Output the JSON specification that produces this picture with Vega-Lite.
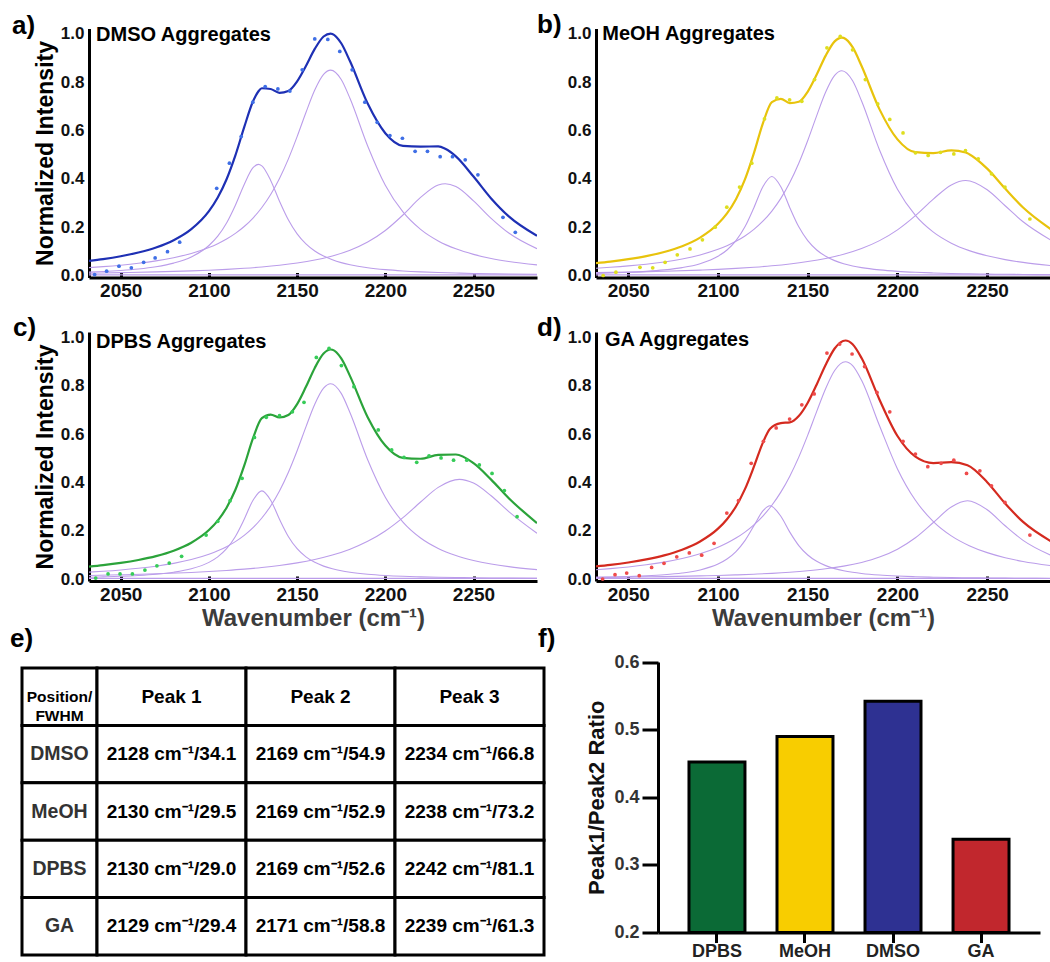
{
"$schema": "https://vega.github.io/schema/vega-lite/v6.json",
"autosize": {"type": "none"},
"padding": {"left": 89, "top": 28.5, "right": 961, "bottom": 933.5},
"background": "white",
"config": {"font": "Liberation Sans", "view": {"stroke": null}, "title": {"anchor": "start", "frame": "group", "fontSize": 26, "fontWeight": "bold", "color": "#000", "offset": 0, "baseline": "alphabetic"}},
"datasets": {
"curves": [
{"p":"a","k":"p1","x":2032,"y":0.0141},{"p":"a","k":"p1","x":2040,"y":0.0166},{"p":"a","k":"p1","x":2050,"y":0.021},{"p":"a","k":"p1","x":2060,"y":0.0272},{"p":"a","k":"p1","x":2070,"y":0.0366},{"p":"a","k":"p1","x":2080,"y":0.0515},{"p":"a","k":"p1","x":2090,"y":0.0771},{"p":"a","k":"p1","x":2100,"y":0.1244},{"p":"a","k":"p1","x":2105,"y":0.1631},{"p":"a","k":"p1","x":2110,"y":0.2175},{"p":"a","k":"p1","x":2115,"y":0.2909},{"p":"a","k":"p1","x":2120,"y":0.377},{"p":"a","k":"p1","x":2125,"y":0.4462},{"p":"a","k":"p1","x":2128,"y":0.46},{"p":"a","k":"p1","x":2130,"y":0.4538},{"p":"a","k":"p1","x":2135,"y":0.3937},{"p":"a","k":"p1","x":2140,"y":0.3076},{"p":"a","k":"p1","x":2145,"y":0.2307},{"p":"a","k":"p1","x":2150,"y":0.1726},{"p":"a","k":"p1","x":2155,"y":0.1311},{"p":"a","k":"p1","x":2160,"y":0.1017},{"p":"a","k":"p1","x":2165,"y":0.0806},{"p":"a","k":"p1","x":2170,"y":0.0651},{"p":"a","k":"p1","x":2175,"y":0.0535},{"p":"a","k":"p1","x":2180,"y":0.0447},{"p":"a","k":"p1","x":2190,"y":0.0323},{"p":"a","k":"p1","x":2200,"y":0.0244},{"p":"a","k":"p1","x":2210,"y":0.0191},{"p":"a","k":"p1","x":2220,"y":0.0153},{"p":"a","k":"p1","x":2230,"y":0.0125},{"p":"a","k":"p1","x":2240,"y":0.0104},{"p":"a","k":"p1","x":2250,"y":0.0088},{"p":"a","k":"p1","x":2260,"y":0.0075},{"p":"a","k":"p1","x":2270,"y":0.0065},{"p":"a","k":"p1","x":2286,"y":0.0053},
{"p":"a","k":"p2","x":2032,"y":0.0328},{"p":"a","k":"p2","x":2040,"y":0.0368},{"p":"a","k":"p2","x":2050,"y":0.0429},{"p":"a","k":"p2","x":2060,"y":0.0507},{"p":"a","k":"p2","x":2070,"y":0.0607},{"p":"a","k":"p2","x":2080,"y":0.0738},{"p":"a","k":"p2","x":2090,"y":0.0916},{"p":"a","k":"p2","x":2100,"y":0.1161},{"p":"a","k":"p2","x":2105,"y":0.1321},{"p":"a","k":"p2","x":2110,"y":0.1513},{"p":"a","k":"p2","x":2115,"y":0.1745},{"p":"a","k":"p2","x":2120,"y":0.203},{"p":"a","k":"p2","x":2125,"y":0.2381},{"p":"a","k":"p2","x":2130,"y":0.2816},{"p":"a","k":"p2","x":2135,"y":0.3354},{"p":"a","k":"p2","x":2140,"y":0.4017},{"p":"a","k":"p2","x":2145,"y":0.4818},{"p":"a","k":"p2","x":2150,"y":0.5747},{"p":"a","k":"p2","x":2155,"y":0.6745},{"p":"a","k":"p2","x":2160,"y":0.7675},{"p":"a","k":"p2","x":2165,"y":0.8323},{"p":"a","k":"p2","x":2169,"y":0.85},{"p":"a","k":"p2","x":2175,"y":0.8112},{"p":"a","k":"p2","x":2180,"y":0.7324},{"p":"a","k":"p2","x":2190,"y":0.5362},{"p":"a","k":"p2","x":2200,"y":0.3736},{"p":"a","k":"p2","x":2210,"y":0.2631},{"p":"a","k":"p2","x":2220,"y":0.1909},{"p":"a","k":"p2","x":2230,"y":0.1431},{"p":"a","k":"p2","x":2240,"y":0.1105},{"p":"a","k":"p2","x":2250,"y":0.0876},{"p":"a","k":"p2","x":2260,"y":0.0709},{"p":"a","k":"p2","x":2270,"y":0.0585},{"p":"a","k":"p2","x":2286,"y":0.0443},
{"p":"a","k":"p3","x":2032,"y":0.0101},{"p":"a","k":"p3","x":2050,"y":0.0121},{"p":"a","k":"p3","x":2070,"y":0.0151},{"p":"a","k":"p3","x":2090,"y":0.0194},{"p":"a","k":"p3","x":2100,"y":0.0222},{"p":"a","k":"p3","x":2110,"y":0.0257},{"p":"a","k":"p3","x":2120,"y":0.03},{"p":"a","k":"p3","x":2130,"y":0.0355},{"p":"a","k":"p3","x":2140,"y":0.0426},{"p":"a","k":"p3","x":2150,"y":0.0519},{"p":"a","k":"p3","x":2160,"y":0.0643},{"p":"a","k":"p3","x":2170,"y":0.0813},{"p":"a","k":"p3","x":2180,"y":0.1051},{"p":"a","k":"p3","x":2190,"y":0.1389},{"p":"a","k":"p3","x":2200,"y":0.1866},{"p":"a","k":"p3","x":2210,"y":0.2506},{"p":"a","k":"p3","x":2220,"y":0.3232},{"p":"a","k":"p3","x":2230,"y":0.3746},{"p":"a","k":"p3","x":2234,"y":0.38},{"p":"a","k":"p3","x":2240,"y":0.3681},{"p":"a","k":"p3","x":2250,"y":0.3091},{"p":"a","k":"p3","x":2260,"y":0.2366},{"p":"a","k":"p3","x":2270,"y":0.1758},{"p":"a","k":"p3","x":2286,"y":0.111},
{"p":"a","k":"base","x":2032,"y":0.003},{"p":"a","k":"base","x":2286,"y":0.003},
{"p":"a","k":"fit","x":2032,"y":0.061},{"p":"a","k":"fit","x":2040,"y":0.0683},{"p":"a","k":"fit","x":2050,"y":0.08},{"p":"a","k":"fit","x":2060,"y":0.0954},{"p":"a","k":"fit","x":2070,"y":0.1164},{"p":"a","k":"fit","x":2080,"y":0.1464},{"p":"a","k":"fit","x":2090,"y":0.1921},{"p":"a","k":"fit","x":2100,"y":0.2667},{"p":"a","k":"fit","x":2105,"y":0.3231},{"p":"a","k":"fit","x":2110,"y":0.3985},{"p":"a","k":"fit","x":2115,"y":0.4972},{"p":"a","k":"fit","x":2120,"y":0.614},{"p":"a","k":"fit","x":2125,"y":0.7209},{"p":"a","k":"fit","x":2128,"y":0.7614},{"p":"a","k":"fit","x":2130,"y":0.7749},{"p":"a","k":"fit","x":2135,"y":0.7719},{"p":"a","k":"fit","x":2140,"y":0.7559},{"p":"a","k":"fit","x":2145,"y":0.7634},{"p":"a","k":"fit","x":2150,"y":0.8032},{"p":"a","k":"fit","x":2155,"y":0.8672},{"p":"a","k":"fit","x":2160,"y":0.9375},{"p":"a","k":"fit","x":2165,"y":0.989},{"p":"a","k":"fit","x":2169,"y":1.0012},{"p":"a","k":"fit","x":2170,"y":0.9993},{"p":"a","k":"fit","x":2175,"y":0.9609},{"p":"a","k":"fit","x":2180,"y":0.8862},{"p":"a","k":"fit","x":2190,"y":0.7114},{"p":"a","k":"fit","x":2200,"y":0.589},{"p":"a","k":"fit","x":2210,"y":0.5368},{"p":"a","k":"fit","x":2220,"y":0.5334},{"p":"a","k":"fit","x":2230,"y":0.5342},{"p":"a","k":"fit","x":2234,"y":0.5242},{"p":"a","k":"fit","x":2240,"y":0.493},{"p":"a","k":"fit","x":2250,"y":0.4095},{"p":"a","k":"fit","x":2260,"y":0.319},{"p":"a","k":"fit","x":2270,"y":0.2448},{"p":"a","k":"fit","x":2286,"y":0.1646},
{"p":"b","k":"p1","x":2032,"y":0.0091},{"p":"b","k":"p1","x":2040,"y":0.0107},{"p":"b","k":"p1","x":2050,"y":0.0135},{"p":"b","k":"p1","x":2060,"y":0.0174},{"p":"b","k":"p1","x":2070,"y":0.0234},{"p":"b","k":"p1","x":2080,"y":0.0328},{"p":"b","k":"p1","x":2090,"y":0.0491},{"p":"b","k":"p1","x":2100,"y":0.0798},{"p":"b","k":"p1","x":2105,"y":0.1059},{"p":"b","k":"p1","x":2110,"y":0.1445},{"p":"b","k":"p1","x":2115,"y":0.2016},{"p":"b","k":"p1","x":2120,"y":0.2809},{"p":"b","k":"p1","x":2125,"y":0.3677},{"p":"b","k":"p1","x":2130,"y":0.41},{"p":"b","k":"p1","x":2135,"y":0.3677},{"p":"b","k":"p1","x":2140,"y":0.2809},{"p":"b","k":"p1","x":2145,"y":0.2016},{"p":"b","k":"p1","x":2150,"y":0.1445},{"p":"b","k":"p1","x":2155,"y":0.1059},{"p":"b","k":"p1","x":2160,"y":0.0798},{"p":"b","k":"p1","x":2165,"y":0.0618},{"p":"b","k":"p1","x":2170,"y":0.0491},{"p":"b","k":"p1","x":2175,"y":0.0398},{"p":"b","k":"p1","x":2180,"y":0.0328},{"p":"b","k":"p1","x":2190,"y":0.0234},{"p":"b","k":"p1","x":2200,"y":0.0174},{"p":"b","k":"p1","x":2210,"y":0.0135},{"p":"b","k":"p1","x":2220,"y":0.0107},{"p":"b","k":"p1","x":2230,"y":0.0087},{"p":"b","k":"p1","x":2240,"y":0.0072},{"p":"b","k":"p1","x":2250,"y":0.0061},{"p":"b","k":"p1","x":2260,"y":0.0052},{"p":"b","k":"p1","x":2270,"y":0.0045},{"p":"b","k":"p1","x":2286,"y":0.0036},
{"p":"b","k":"p2","x":2032,"y":0.0304},{"p":"b","k":"p2","x":2040,"y":0.0342},{"p":"b","k":"p2","x":2050,"y":0.0399},{"p":"b","k":"p2","x":2060,"y":0.0471},{"p":"b","k":"p2","x":2070,"y":0.0564},{"p":"b","k":"p2","x":2080,"y":0.0687},{"p":"b","k":"p2","x":2090,"y":0.0854},{"p":"b","k":"p2","x":2100,"y":0.1085},{"p":"b","k":"p2","x":2105,"y":0.1236},{"p":"b","k":"p2","x":2110,"y":0.1417},{"p":"b","k":"p2","x":2115,"y":0.1639},{"p":"b","k":"p2","x":2120,"y":0.1911},{"p":"b","k":"p2","x":2125,"y":0.2248},{"p":"b","k":"p2","x":2130,"y":0.2669},{"p":"b","k":"p2","x":2135,"y":0.3193},{"p":"b","k":"p2","x":2140,"y":0.3846},{"p":"b","k":"p2","x":2145,"y":0.4645},{"p":"b","k":"p2","x":2150,"y":0.5587},{"p":"b","k":"p2","x":2155,"y":0.6617},{"p":"b","k":"p2","x":2160,"y":0.7591},{"p":"b","k":"p2","x":2165,"y":0.828},{"p":"b","k":"p2","x":2169,"y":0.847},{"p":"b","k":"p2","x":2175,"y":0.8056},{"p":"b","k":"p2","x":2180,"y":0.7221},{"p":"b","k":"p2","x":2190,"y":0.5195},{"p":"b","k":"p2","x":2200,"y":0.3568},{"p":"b","k":"p2","x":2210,"y":0.2489},{"p":"b","k":"p2","x":2220,"y":0.1796},{"p":"b","k":"p2","x":2230,"y":0.1341},{"p":"b","k":"p2","x":2240,"y":0.1032},{"p":"b","k":"p2","x":2250,"y":0.0816},{"p":"b","k":"p2","x":2260,"y":0.066},{"p":"b","k":"p2","x":2270,"y":0.0544},{"p":"b","k":"p2","x":2286,"y":0.0412},
{"p":"b","k":"p3","x":2032,"y":0.012},{"p":"b","k":"p3","x":2050,"y":0.0144},{"p":"b","k":"p3","x":2070,"y":0.0178},{"p":"b","k":"p3","x":2090,"y":0.0226},{"p":"b","k":"p3","x":2100,"y":0.0258},{"p":"b","k":"p3","x":2110,"y":0.0297},{"p":"b","k":"p3","x":2120,"y":0.0345},{"p":"b","k":"p3","x":2130,"y":0.0405},{"p":"b","k":"p3","x":2140,"y":0.0481},{"p":"b","k":"p3","x":2150,"y":0.058},{"p":"b","k":"p3","x":2160,"y":0.0709},{"p":"b","k":"p3","x":2170,"y":0.0883},{"p":"b","k":"p3","x":2180,"y":0.1119},{"p":"b","k":"p3","x":2190,"y":0.1445},{"p":"b","k":"p3","x":2200,"y":0.1891},{"p":"b","k":"p3","x":2210,"y":0.2479},{"p":"b","k":"p3","x":2220,"y":0.3164},{"p":"b","k":"p3","x":2230,"y":0.3751},{"p":"b","k":"p3","x":2238,"y":0.393},{"p":"b","k":"p3","x":2250,"y":0.3548},{"p":"b","k":"p3","x":2260,"y":0.2887},{"p":"b","k":"p3","x":2270,"y":0.2227},{"p":"b","k":"p3","x":2286,"y":0.1445},
{"p":"b","k":"base","x":2032,"y":0.003},{"p":"b","k":"base","x":2286,"y":0.003},
{"p":"b","k":"fit","x":2032,"y":0.0515},{"p":"b","k":"fit","x":2040,"y":0.0579},{"p":"b","k":"fit","x":2050,"y":0.0678},{"p":"b","k":"fit","x":2060,"y":0.0804},{"p":"b","k":"fit","x":2070,"y":0.0976},{"p":"b","k":"fit","x":2080,"y":0.1215},{"p":"b","k":"fit","x":2090,"y":0.1571},{"p":"b","k":"fit","x":2100,"y":0.2141},{"p":"b","k":"fit","x":2105,"y":0.2572},{"p":"b","k":"fit","x":2110,"y":0.3159},{"p":"b","k":"fit","x":2115,"y":0.3975},{"p":"b","k":"fit","x":2120,"y":0.5065},{"p":"b","k":"fit","x":2125,"y":0.6298},{"p":"b","k":"fit","x":2130,"y":0.7174},{"p":"b","k":"fit","x":2135,"y":0.7311},{"p":"b","k":"fit","x":2140,"y":0.7136},{"p":"b","k":"fit","x":2145,"y":0.7188},{"p":"b","k":"fit","x":2150,"y":0.7612},{"p":"b","k":"fit","x":2155,"y":0.8316},{"p":"b","k":"fit","x":2160,"y":0.9098},{"p":"b","k":"fit","x":2165,"y":0.9687},{"p":"b","k":"fit","x":2169,"y":0.9846},{"p":"b","k":"fit","x":2170,"y":0.9832},{"p":"b","k":"fit","x":2175,"y":0.9446},{"p":"b","k":"fit","x":2180,"y":0.8668},{"p":"b","k":"fit","x":2190,"y":0.6874},{"p":"b","k":"fit","x":2200,"y":0.5633},{"p":"b","k":"fit","x":2210,"y":0.5103},{"p":"b","k":"fit","x":2220,"y":0.5067},{"p":"b","k":"fit","x":2230,"y":0.5179},{"p":"b","k":"fit","x":2238,"y":0.509},{"p":"b","k":"fit","x":2240,"y":0.5022},{"p":"b","k":"fit","x":2250,"y":0.4425},{"p":"b","k":"fit","x":2260,"y":0.3599},{"p":"b","k":"fit","x":2270,"y":0.2816},{"p":"b","k":"fit","x":2286,"y":0.1893},
{"p":"c","k":"p1","x":2032,"y":0.0078},{"p":"c","k":"p1","x":2040,"y":0.0092},{"p":"c","k":"p1","x":2050,"y":0.0116},{"p":"c","k":"p1","x":2060,"y":0.015},{"p":"c","k":"p1","x":2070,"y":0.0201},{"p":"c","k":"p1","x":2080,"y":0.0283},{"p":"c","k":"p1","x":2090,"y":0.0424},{"p":"c","k":"p1","x":2100,"y":0.0691},{"p":"c","k":"p1","x":2105,"y":0.0919},{"p":"c","k":"p1","x":2110,"y":0.1257},{"p":"c","k":"p1","x":2115,"y":0.1763},{"p":"c","k":"p1","x":2120,"y":0.2474},{"p":"c","k":"p1","x":2125,"y":0.3262},{"p":"c","k":"p1","x":2130,"y":0.365},{"p":"c","k":"p1","x":2135,"y":0.3262},{"p":"c","k":"p1","x":2140,"y":0.2474},{"p":"c","k":"p1","x":2145,"y":0.1763},{"p":"c","k":"p1","x":2150,"y":0.1257},{"p":"c","k":"p1","x":2155,"y":0.0919},{"p":"c","k":"p1","x":2160,"y":0.0691},{"p":"c","k":"p1","x":2165,"y":0.0535},{"p":"c","k":"p1","x":2170,"y":0.0424},{"p":"c","k":"p1","x":2175,"y":0.0343},{"p":"c","k":"p1","x":2180,"y":0.0283},{"p":"c","k":"p1","x":2190,"y":0.0201},{"p":"c","k":"p1","x":2200,"y":0.015},{"p":"c","k":"p1","x":2210,"y":0.0116},{"p":"c","k":"p1","x":2220,"y":0.0092},{"p":"c","k":"p1","x":2230,"y":0.0075},{"p":"c","k":"p1","x":2240,"y":0.0062},{"p":"c","k":"p1","x":2250,"y":0.0053},{"p":"c","k":"p1","x":2260,"y":0.0045},{"p":"c","k":"p1","x":2270,"y":0.0039},{"p":"c","k":"p1","x":2286,"y":0.0031},
{"p":"c","k":"p2","x":2032,"y":0.0287},{"p":"c","k":"p2","x":2040,"y":0.0322},{"p":"c","k":"p2","x":2050,"y":0.0376},{"p":"c","k":"p2","x":2060,"y":0.0445},{"p":"c","k":"p2","x":2070,"y":0.0533},{"p":"c","k":"p2","x":2080,"y":0.0649},{"p":"c","k":"p2","x":2090,"y":0.0806},{"p":"c","k":"p2","x":2100,"y":0.1025},{"p":"c","k":"p2","x":2105,"y":0.1167},{"p":"c","k":"p2","x":2110,"y":0.134},{"p":"c","k":"p2","x":2115,"y":0.1549},{"p":"c","k":"p2","x":2120,"y":0.1807},{"p":"c","k":"p2","x":2125,"y":0.2127},{"p":"c","k":"p2","x":2130,"y":0.2526},{"p":"c","k":"p2","x":2135,"y":0.3025},{"p":"c","k":"p2","x":2140,"y":0.3646},{"p":"c","k":"p2","x":2145,"y":0.4409},{"p":"c","k":"p2","x":2150,"y":0.5309},{"p":"c","k":"p2","x":2155,"y":0.6296},{"p":"c","k":"p2","x":2160,"y":0.7233},{"p":"c","k":"p2","x":2165,"y":0.7897},{"p":"c","k":"p2","x":2169,"y":0.808},{"p":"c","k":"p2","x":2175,"y":0.768},{"p":"c","k":"p2","x":2180,"y":0.6877},{"p":"c","k":"p2","x":2190,"y":0.4934},{"p":"c","k":"p2","x":2200,"y":0.3382},{"p":"c","k":"p2","x":2210,"y":0.2355},{"p":"c","k":"p2","x":2220,"y":0.1698},{"p":"c","k":"p2","x":2230,"y":0.1267},{"p":"c","k":"p2","x":2240,"y":0.0975},{"p":"c","k":"p2","x":2250,"y":0.0771},{"p":"c","k":"p2","x":2260,"y":0.0623},{"p":"c","k":"p2","x":2270,"y":0.0513},{"p":"c","k":"p2","x":2286,"y":0.0389},
{"p":"c","k":"p3","x":2032,"y":0.0148},{"p":"c","k":"p3","x":2050,"y":0.0176},{"p":"c","k":"p3","x":2070,"y":0.0217},{"p":"c","k":"p3","x":2090,"y":0.0274},{"p":"c","k":"p3","x":2100,"y":0.0311},{"p":"c","k":"p3","x":2110,"y":0.0356},{"p":"c","k":"p3","x":2120,"y":0.041},{"p":"c","k":"p3","x":2130,"y":0.0478},{"p":"c","k":"p3","x":2140,"y":0.0563},{"p":"c","k":"p3","x":2150,"y":0.0671},{"p":"c","k":"p3","x":2160,"y":0.0811},{"p":"c","k":"p3","x":2170,"y":0.0993},{"p":"c","k":"p3","x":2180,"y":0.1236},{"p":"c","k":"p3","x":2190,"y":0.156},{"p":"c","k":"p3","x":2200,"y":0.199},{"p":"c","k":"p3","x":2210,"y":0.2542},{"p":"c","k":"p3","x":2220,"y":0.3187},{"p":"c","k":"p3","x":2230,"y":0.3793},{"p":"c","k":"p3","x":2242,"y":0.4125},{"p":"c","k":"p3","x":2250,"y":0.397},{"p":"c","k":"p3","x":2260,"y":0.3446},{"p":"c","k":"p3","x":2270,"y":0.2793},{"p":"c","k":"p3","x":2286,"y":0.1895},
{"p":"c","k":"base","x":2032,"y":0.003},{"p":"c","k":"base","x":2286,"y":0.003},
{"p":"c","k":"fit","x":2032,"y":0.0513},{"p":"c","k":"fit","x":2040,"y":0.0574},{"p":"c","k":"fit","x":2050,"y":0.0668},{"p":"c","k":"fit","x":2060,"y":0.079},{"p":"c","k":"fit","x":2070,"y":0.0951},{"p":"c","k":"fit","x":2080,"y":0.1175},{"p":"c","k":"fit","x":2090,"y":0.1504},{"p":"c","k":"fit","x":2100,"y":0.2027},{"p":"c","k":"fit","x":2105,"y":0.2418},{"p":"c","k":"fit","x":2110,"y":0.2953},{"p":"c","k":"fit","x":2115,"y":0.3694},{"p":"c","k":"fit","x":2120,"y":0.4691},{"p":"c","k":"fit","x":2125,"y":0.5831},{"p":"c","k":"fit","x":2130,"y":0.6654},{"p":"c","k":"fit","x":2135,"y":0.6805},{"p":"c","k":"fit","x":2140,"y":0.6683},{"p":"c","k":"fit","x":2145,"y":0.6786},{"p":"c","k":"fit","x":2150,"y":0.7237},{"p":"c","k":"fit","x":2155,"y":0.7951},{"p":"c","k":"fit","x":2160,"y":0.8735},{"p":"c","k":"fit","x":2165,"y":0.9328},{"p":"c","k":"fit","x":2169,"y":0.9496},{"p":"c","k":"fit","x":2170,"y":0.9486},{"p":"c","k":"fit","x":2175,"y":0.9129},{"p":"c","k":"fit","x":2180,"y":0.8396},{"p":"c","k":"fit","x":2190,"y":0.6695},{"p":"c","k":"fit","x":2200,"y":0.5522},{"p":"c","k":"fit","x":2210,"y":0.5013},{"p":"c","k":"fit","x":2220,"y":0.4977},{"p":"c","k":"fit","x":2230,"y":0.5135},{"p":"c","k":"fit","x":2240,"y":0.5152},{"p":"c","k":"fit","x":2250,"y":0.4794},{"p":"c","k":"fit","x":2260,"y":0.4114},{"p":"c","k":"fit","x":2270,"y":0.3345},{"p":"c","k":"fit","x":2286,"y":0.2315},
{"p":"d","k":"p1","x":2032,"y":0.0068},{"p":"d","k":"p1","x":2040,"y":0.008},{"p":"d","k":"p1","x":2050,"y":0.0101},{"p":"d","k":"p1","x":2060,"y":0.0132},{"p":"d","k":"p1","x":2070,"y":0.0177},{"p":"d","k":"p1","x":2080,"y":0.025},{"p":"d","k":"p1","x":2090,"y":0.0377},{"p":"d","k":"p1","x":2100,"y":0.0619},{"p":"d","k":"p1","x":2105,"y":0.0827},{"p":"d","k":"p1","x":2110,"y":0.1135},{"p":"d","k":"p1","x":2115,"y":0.1589},{"p":"d","k":"p1","x":2120,"y":0.2204},{"p":"d","k":"p1","x":2125,"y":0.2821},{"p":"d","k":"p1","x":2129,"y":0.303},{"p":"d","k":"p1","x":2135,"y":0.2597},{"p":"d","k":"p1","x":2140,"y":0.1942},{"p":"d","k":"p1","x":2145,"y":0.1387},{"p":"d","k":"p1","x":2150,"y":0.0997},{"p":"d","k":"p1","x":2155,"y":0.0734},{"p":"d","k":"p1","x":2160,"y":0.0556},{"p":"d","k":"p1","x":2165,"y":0.0433},{"p":"d","k":"p1","x":2170,"y":0.0345},{"p":"d","k":"p1","x":2175,"y":0.0281},{"p":"d","k":"p1","x":2180,"y":0.0232},{"p":"d","k":"p1","x":2190,"y":0.0166},{"p":"d","k":"p1","x":2200,"y":0.0125},{"p":"d","k":"p1","x":2210,"y":0.0097},{"p":"d","k":"p1","x":2220,"y":0.0077},{"p":"d","k":"p1","x":2230,"y":0.0063},{"p":"d","k":"p1","x":2240,"y":0.0052},{"p":"d","k":"p1","x":2250,"y":0.0044},{"p":"d","k":"p1","x":2260,"y":0.0038},{"p":"d","k":"p1","x":2270,"y":0.0033},{"p":"d","k":"p1","x":2286,"y":0.0026},
{"p":"d","k":"p2","x":2032,"y":0.0385},{"p":"d","k":"p2","x":2040,"y":0.0431},{"p":"d","k":"p2","x":2050,"y":0.0501},{"p":"d","k":"p2","x":2060,"y":0.0589},{"p":"d","k":"p2","x":2070,"y":0.0702},{"p":"d","k":"p2","x":2080,"y":0.085},{"p":"d","k":"p2","x":2090,"y":0.1047},{"p":"d","k":"p2","x":2100,"y":0.1316},{"p":"d","k":"p2","x":2105,"y":0.1489},{"p":"d","k":"p2","x":2110,"y":0.1695},{"p":"d","k":"p2","x":2115,"y":0.1943},{"p":"d","k":"p2","x":2120,"y":0.2242},{"p":"d","k":"p2","x":2125,"y":0.2607},{"p":"d","k":"p2","x":2130,"y":0.3053},{"p":"d","k":"p2","x":2135,"y":0.3597},{"p":"d","k":"p2","x":2140,"y":0.4257},{"p":"d","k":"p2","x":2145,"y":0.5045},{"p":"d","k":"p2","x":2150,"y":0.5953},{"p":"d","k":"p2","x":2155,"y":0.6936},{"p":"d","k":"p2","x":2160,"y":0.7886},{"p":"d","k":"p2","x":2165,"y":0.863},{"p":"d","k":"p2","x":2171,"y":0.899},{"p":"d","k":"p2","x":2175,"y":0.8827},{"p":"d","k":"p2","x":2180,"y":0.822},{"p":"d","k":"p2","x":2190,"y":0.6342},{"p":"d","k":"p2","x":2200,"y":0.4557},{"p":"d","k":"p2","x":2210,"y":0.3258},{"p":"d","k":"p2","x":2220,"y":0.238},{"p":"d","k":"p2","x":2230,"y":0.1788},{"p":"d","k":"p2","x":2240,"y":0.1382},{"p":"d","k":"p2","x":2250,"y":0.1094},{"p":"d","k":"p2","x":2260,"y":0.0885},{"p":"d","k":"p2","x":2270,"y":0.0729},{"p":"d","k":"p2","x":2286,"y":0.0552},
{"p":"d","k":"p3","x":2032,"y":0.007},{"p":"d","k":"p3","x":2050,"y":0.0083},{"p":"d","k":"p3","x":2070,"y":0.0103},{"p":"d","k":"p3","x":2090,"y":0.0132},{"p":"d","k":"p3","x":2100,"y":0.015},{"p":"d","k":"p3","x":2110,"y":0.0173},{"p":"d","k":"p3","x":2120,"y":0.0202},{"p":"d","k":"p3","x":2130,"y":0.0237},{"p":"d","k":"p3","x":2140,"y":0.0283},{"p":"d","k":"p3","x":2150,"y":0.0344},{"p":"d","k":"p3","x":2160,"y":0.0424},{"p":"d","k":"p3","x":2170,"y":0.0534},{"p":"d","k":"p3","x":2180,"y":0.0689},{"p":"d","k":"p3","x":2190,"y":0.0911},{"p":"d","k":"p3","x":2200,"y":0.1237},{"p":"d","k":"p3","x":2210,"y":0.171},{"p":"d","k":"p3","x":2220,"y":0.2341},{"p":"d","k":"p3","x":2230,"y":0.2983},{"p":"d","k":"p3","x":2239,"y":0.324},{"p":"d","k":"p3","x":2250,"y":0.287},{"p":"d","k":"p3","x":2260,"y":0.2205},{"p":"d","k":"p3","x":2270,"y":0.1602},{"p":"d","k":"p3","x":2286,"y":0.0967},
{"p":"d","k":"base","x":2032,"y":0.003},{"p":"d","k":"base","x":2286,"y":0.003},
{"p":"d","k":"fit","x":2032,"y":0.0523},{"p":"d","k":"fit","x":2040,"y":0.0586},{"p":"d","k":"fit","x":2050,"y":0.0685},{"p":"d","k":"fit","x":2060,"y":0.0813},{"p":"d","k":"fit","x":2070,"y":0.0982},{"p":"d","k":"fit","x":2080,"y":0.1216},{"p":"d","k":"fit","x":2090,"y":0.1556},{"p":"d","k":"fit","x":2100,"y":0.2085},{"p":"d","k":"fit","x":2105,"y":0.2477},{"p":"d","k":"fit","x":2110,"y":0.3003},{"p":"d","k":"fit","x":2115,"y":0.3719},{"p":"d","k":"fit","x":2120,"y":0.4648},{"p":"d","k":"fit","x":2125,"y":0.5646},{"p":"d","k":"fit","x":2129,"y":0.622},{"p":"d","k":"fit","x":2135,"y":0.6453},{"p":"d","k":"fit","x":2140,"y":0.6482},{"p":"d","k":"fit","x":2145,"y":0.6743},{"p":"d","k":"fit","x":2150,"y":0.7294},{"p":"d","k":"fit","x":2155,"y":0.8051},{"p":"d","k":"fit","x":2160,"y":0.8866},{"p":"d","k":"fit","x":2165,"y":0.9537},{"p":"d","k":"fit","x":2171,"y":0.9868},{"p":"d","k":"fit","x":2175,"y":0.9712},{"p":"d","k":"fit","x":2180,"y":0.9141},{"p":"d","k":"fit","x":2190,"y":0.7419},{"p":"d","k":"fit","x":2200,"y":0.5919},{"p":"d","k":"fit","x":2210,"y":0.5065},{"p":"d","k":"fit","x":2220,"y":0.4798},{"p":"d","k":"fit","x":2230,"y":0.4834},{"p":"d","k":"fit","x":2239,"y":0.4709},{"p":"d","k":"fit","x":2250,"y":0.4008},{"p":"d","k":"fit","x":2260,"y":0.3128},{"p":"d","k":"fit","x":2270,"y":0.2364},{"p":"d","k":"fit","x":2286,"y":0.1545}
],
"dots": [
{"p":"a","x":2035.2,"y":0.004},{"p":"a","x":2042,"y":0.018},{"p":"a","x":2049,"y":0.039},{"p":"a","x":2056,"y":0.032},{"p":"a","x":2063,"y":0.055},{"p":"a","x":2069.5,"y":0.073},{"p":"a","x":2076.5,"y":0.099},{"p":"a","x":2083.4,"y":0.138},{"p":"a","x":2104.4,"y":0.361},{"p":"a","x":2111.6,"y":0.465},{"p":"a","x":2118.3,"y":0.575},{"p":"a","x":2124.9,"y":0.717},{"p":"a","x":2131.9,"y":0.782},{"p":"a","x":2139.1,"y":0.772},{"p":"a","x":2145.9,"y":0.763},{"p":"a","x":2152.9,"y":0.851},{"p":"a","x":2160,"y":0.979},{"p":"a","x":2167.4,"y":0.977},{"p":"a","x":2174.2,"y":0.927},{"p":"a","x":2181.2,"y":0.851},{"p":"a","x":2188.4,"y":0.717},{"p":"a","x":2195.4,"y":0.634},{"p":"a","x":2202.6,"y":0.579},{"p":"a","x":2209.7,"y":0.568},{"p":"a","x":2216.9,"y":0.514},{"p":"a","x":2223.9,"y":0.514},{"p":"a","x":2231.1,"y":0.492},{"p":"a","x":2238.1,"y":0.492},{"p":"a","x":2245.3,"y":0.479},{"p":"a","x":2252.5,"y":0.417},{"p":"a","x":2266.7,"y":0.241},{"p":"a","x":2273.7,"y":0.179},
{"p":"b","x":2036,"y":0.0},{"p":"b","x":2043.1,"y":0.014},{"p":"b","x":2056.5,"y":0.034},{"p":"b","x":2063.6,"y":0.032},{"p":"b","x":2070.5,"y":0.055},{"p":"b","x":2077.3,"y":0.086},{"p":"b","x":2084.4,"y":0.11},{"p":"b","x":2091.3,"y":0.148},{"p":"b","x":2098.4,"y":0.2},{"p":"b","x":2104.9,"y":0.283},{"p":"b","x":2112,"y":0.366},{"p":"b","x":2118.8,"y":0.465},{"p":"b","x":2125.9,"y":0.648},{"p":"b","x":2132.8,"y":0.735},{"p":"b","x":2139.9,"y":0.727},{"p":"b","x":2146.7,"y":0.721},{"p":"b","x":2153.8,"y":0.811},{"p":"b","x":2160.7,"y":0.942},{"p":"b","x":2168.1,"y":0.989},{"p":"b","x":2175,"y":0.934},{"p":"b","x":2182.1,"y":0.811},{"p":"b","x":2189,"y":0.71},{"p":"b","x":2195.7,"y":0.646},{"p":"b","x":2203.1,"y":0.59},{"p":"b","x":2210,"y":0.508},{"p":"b","x":2217.1,"y":0.497},{"p":"b","x":2224,"y":0.51},{"p":"b","x":2231.4,"y":0.503},{"p":"b","x":2237.9,"y":0.517},{"p":"b","x":2245,"y":0.483},{"p":"b","x":2252.4,"y":0.421},{"p":"b","x":2259.9,"y":0.366},{"p":"b","x":2273.8,"y":0.234},
{"p":"c","x":2035.8,"y":0.004},{"p":"c","x":2042.8,"y":0.021},{"p":"c","x":2049.6,"y":0.021},{"p":"c","x":2056.6,"y":0.021},{"p":"c","x":2063.7,"y":0.037},{"p":"c","x":2070.5,"y":0.055},{"p":"c","x":2077.5,"y":0.066},{"p":"c","x":2084.5,"y":0.094},{"p":"c","x":2098.4,"y":0.182},{"p":"c","x":2105,"y":0.239},{"p":"c","x":2112,"y":0.324},{"p":"c","x":2118.8,"y":0.417},{"p":"c","x":2125.8,"y":0.586},{"p":"c","x":2132.5,"y":0.669},{"p":"c","x":2140,"y":0.676},{"p":"c","x":2147.3,"y":0.692},{"p":"c","x":2153.9,"y":0.731},{"p":"c","x":2160.9,"y":0.917},{"p":"c","x":2168.1,"y":0.954},{"p":"c","x":2175.1,"y":0.883},{"p":"c","x":2182.2,"y":0.796},{"p":"c","x":2196,"y":0.617},{"p":"c","x":2203.6,"y":0.534},{"p":"c","x":2210.6,"y":0.503},{"p":"c","x":2217.8,"y":0.483},{"p":"c","x":2224.8,"y":0.51},{"p":"c","x":2231.6,"y":0.501},{"p":"c","x":2238.7,"y":0.492},{"p":"c","x":2246.2,"y":0.492},{"p":"c","x":2253.3,"y":0.472},{"p":"c","x":2260.5,"y":0.437},{"p":"c","x":2267.5,"y":0.366},{"p":"c","x":2274.7,"y":0.258},
{"p":"d","x":2035.7,"y":0.0},{"p":"d","x":2042.6,"y":0.018},{"p":"d","x":2049.1,"y":0.025},{"p":"d","x":2056.1,"y":0.014},{"p":"d","x":2063,"y":0.048},{"p":"d","x":2069.9,"y":0.065},{"p":"d","x":2077,"y":0.092},{"p":"d","x":2084,"y":0.108},{"p":"d","x":2090.9,"y":0.099},{"p":"d","x":2097.8,"y":0.148},{"p":"d","x":2104.9,"y":0.273},{"p":"d","x":2111.4,"y":0.324},{"p":"d","x":2118.5,"y":0.479},{"p":"d","x":2125.3,"y":0.57},{"p":"d","x":2132.4,"y":0.625},{"p":"d","x":2139.9,"y":0.662},{"p":"d","x":2146.7,"y":0.721},{"p":"d","x":2153.6,"y":0.766},{"p":"d","x":2160.7,"y":0.935},{"p":"d","x":2167.8,"y":0.972},{"p":"d","x":2174.7,"y":0.931},{"p":"d","x":2181.7,"y":0.879},{"p":"d","x":2188.6,"y":0.772},{"p":"d","x":2195.7,"y":0.692},{"p":"d","x":2203.1,"y":0.57},{"p":"d","x":2210,"y":0.517},{"p":"d","x":2216.9,"y":0.465},{"p":"d","x":2224.3,"y":0.479},{"p":"d","x":2231.4,"y":0.492},{"p":"d","x":2238.5,"y":0.437},{"p":"d","x":2245.9,"y":0.448},{"p":"d","x":2252.4,"y":0.386},{"p":"d","x":2259.9,"y":0.317},{"p":"d","x":2273.8,"y":0.182}
],
"table": [
{"r":"hdr","c":"h","t":"Position/\nFWHM"},{"r":"hdr","c":"Peak 1","t":"Peak 1"},{"r":"hdr","c":"Peak 2","t":"Peak 2"},{"r":"hdr","c":"Peak 3","t":"Peak 3"},
{"r":"DMSO","c":"h","t":"DMSO"},{"r":"DMSO","c":"Peak 1","t":"2128 cm⁻¹/34.1"},{"r":"DMSO","c":"Peak 2","t":"2169 cm⁻¹/54.9"},{"r":"DMSO","c":"Peak 3","t":"2234 cm⁻¹/66.8"},
{"r":"MeOH","c":"h","t":"MeOH"},{"r":"MeOH","c":"Peak 1","t":"2130 cm⁻¹/29.5"},{"r":"MeOH","c":"Peak 2","t":"2169 cm⁻¹/52.9"},{"r":"MeOH","c":"Peak 3","t":"2238 cm⁻¹/73.2"},
{"r":"DPBS","c":"h","t":"DPBS"},{"r":"DPBS","c":"Peak 1","t":"2130 cm⁻¹/29.0"},{"r":"DPBS","c":"Peak 2","t":"2169 cm⁻¹/52.6"},{"r":"DPBS","c":"Peak 3","t":"2242 cm⁻¹/81.1"},
{"r":"GA","c":"h","t":"GA"},{"r":"GA","c":"Peak 1","t":"2129 cm⁻¹/29.4"},{"r":"GA","c":"Peak 2","t":"2171 cm⁻¹/58.8"},{"r":"GA","c":"Peak 3","t":"2239 cm⁻¹/61.3"}
],
"bars": [
{"s":"DPBS","r":0.452},{"s":"MeOH","r":0.49},{"s":"DMSO","r":0.542},{"s":"GA","r":0.338}
]
},
"columns": 2,
"align": "none",
"bounds": "flush",
"spacing": {"row": 54.5, "column": 59},
"concat": [
{
"width": 448, "height": 249,
"title": {"text": "a)", "dx": -77, "dy": 18},
"layer": [
{"data": {"name": "curves"}, "transform": [{"filter": "datum.p == 'a' && datum.k != 'fit'"}],
 "mark": {"type": "line", "color": "#bb9dea", "strokeWidth": 1.1, "interpolate": "monotone", "clip": true},
 "encoding": {
  "x": {"field": "x", "type": "quantitative", "scale": {"domain": [2032, 2286], "nice": false, "zero": false},
        "axis": {"values": [2050,2100,2150,2200,2250], "format": "d", "title": null, "labelFontSize": 19, "labelFontWeight": "bold", "labelColor": "#111", "labelPadding": 9, "domainColor": "#000", "domainWidth": 3, "tickColor": "#000", "tickWidth": 3, "tickSize": -5, "grid": false}},
  "y": {"field": "y", "type": "quantitative", "scale": {"domain": [-0.008, 1.022], "nice": false, "zero": false},
        "axis": {"values": [0,0.2,0.4,0.6,0.8,1], "format": ".1f", "title": "Normalized Intensity", "titleFontSize": 23, "titleFontWeight": "bold", "titleColor": "#000", "titlePadding": 3, "labelFontSize": 17, "labelFontWeight": "bold", "labelColor": "#111", "labelPadding": 5, "ticks": false, "tickSize": 0, "domainColor": "#000", "domainWidth": 3, "grid": false}},
  "detail": {"field": "k", "type": "nominal"}}},
{"data": {"name": "curves"}, "transform": [{"filter": "datum.p == 'a' && datum.k == 'fit'"}],
 "mark": {"type": "line", "color": "#1e30b4", "strokeWidth": 2.2, "interpolate": "monotone", "clip": true},
 "encoding": {"x": {"field": "x", "type": "quantitative"}, "y": {"field": "y", "type": "quantitative"}}},
{"data": {"name": "dots"}, "transform": [{"filter": "datum.p == 'a'"}],
 "mark": {"type": "circle", "size": 14, "color": "#3f6fe6", "opacity": 1, "clip": true},
 "encoding": {"x": {"field": "x", "type": "quantitative"}, "y": {"field": "y", "type": "quantitative"}}},
{"data": {"values": [{"t": "DMSO Aggregates"}]},
 "mark": {"type": "text", "align": "left", "baseline": "middle", "fontSize": 20, "fontWeight": "bold", "color": "#000"},
 "encoding": {"x": {"datum": 2036}, "y": {"datum": 0.997}, "text": {"field": "t", "type": "nominal"}}}
]
},
{
"width": 454, "height": 249,
"title": {"text": "b)", "dx": -59, "dy": 18},
"layer": [
{"data": {"name": "curves"}, "transform": [{"filter": "datum.p == 'b' && datum.k != 'fit'"}],
 "mark": {"type": "line", "color": "#bb9dea", "strokeWidth": 1.1, "interpolate": "monotone", "clip": true},
 "encoding": {
  "x": {"field": "x", "type": "quantitative", "scale": {"domain": [2032, 2285], "nice": false, "zero": false},
        "axis": {"values": [2050,2100,2150,2200,2250], "format": "d", "title": null, "labelFontSize": 19, "labelFontWeight": "bold", "labelColor": "#111", "labelPadding": 9, "domainColor": "#000", "domainWidth": 3, "tickColor": "#000", "tickWidth": 3, "tickSize": -5, "grid": false}},
  "y": {"field": "y", "type": "quantitative", "scale": {"domain": [-0.008, 1.022], "nice": false, "zero": false},
        "axis": {"values": [0,0.2,0.4,0.6,0.8,1], "format": ".1f", "title": null, "labelFontSize": 17, "labelFontWeight": "bold", "labelColor": "#111", "labelPadding": 5, "ticks": false, "tickSize": 0, "domainColor": "#000", "domainWidth": 3, "grid": false}},
  "detail": {"field": "k", "type": "nominal"}}},
{"data": {"name": "curves"}, "transform": [{"filter": "datum.p == 'b' && datum.k == 'fit'"}],
 "mark": {"type": "line", "color": "#e8c30c", "strokeWidth": 2.2, "interpolate": "monotone", "clip": true},
 "encoding": {"x": {"field": "x", "type": "quantitative"}, "y": {"field": "y", "type": "quantitative"}}},
{"data": {"name": "dots"}, "transform": [{"filter": "datum.p == 'b'"}],
 "mark": {"type": "circle", "size": 14, "color": "#dede1e", "opacity": 1, "clip": true},
 "encoding": {"x": {"field": "x", "type": "quantitative"}, "y": {"field": "y", "type": "quantitative"}}},
{"data": {"values": [{"t": "MeOH Aggregates"}]},
 "mark": {"type": "text", "align": "left", "baseline": "middle", "fontSize": 20, "fontWeight": "bold", "color": "#000"},
 "encoding": {"x": {"datum": 2035.5}, "y": {"datum": 1.0}, "text": {"field": "t", "type": "nominal"}}}
]
},
{
"width": 448, "height": 249,
"title": {"text": "c)", "dx": -76, "dy": 17},
"layer": [
{"data": {"name": "curves"}, "transform": [{"filter": "datum.p == 'c' && datum.k != 'fit'"}],
 "mark": {"type": "line", "color": "#bb9dea", "strokeWidth": 1.1, "interpolate": "monotone", "clip": true},
 "encoding": {
  "x": {"field": "x", "type": "quantitative", "scale": {"domain": [2032, 2286], "nice": false, "zero": false},
        "axis": {"values": [2050,2100,2150,2200,2250], "format": "d", "title": "Wavenumber (cm⁻¹)", "titleFontSize": 24, "titleFontWeight": "bold", "titleColor": "#3c3c3c", "titlePadding": 2, "labelFontSize": 19, "labelFontWeight": "bold", "labelColor": "#111", "labelPadding": 9, "domainColor": "#000", "domainWidth": 3, "tickColor": "#000", "tickWidth": 3, "tickSize": -5, "grid": false}},
  "y": {"field": "y", "type": "quantitative", "scale": {"domain": [-0.008, 1.022], "nice": false, "zero": false},
        "axis": {"values": [0,0.2,0.4,0.6,0.8,1], "format": ".1f", "title": "Normalized Intensity", "titleFontSize": 23, "titleFontWeight": "bold", "titleColor": "#000", "titlePadding": 3, "labelFontSize": 17, "labelFontWeight": "bold", "labelColor": "#111", "labelPadding": 5, "ticks": false, "tickSize": 0, "domainColor": "#000", "domainWidth": 3, "grid": false}},
  "detail": {"field": "k", "type": "nominal"}}},
{"data": {"name": "curves"}, "transform": [{"filter": "datum.p == 'c' && datum.k == 'fit'"}],
 "mark": {"type": "line", "color": "#2ba33a", "strokeWidth": 2.2, "interpolate": "monotone", "clip": true},
 "encoding": {"x": {"field": "x", "type": "quantitative"}, "y": {"field": "y", "type": "quantitative"}}},
{"data": {"name": "dots"}, "transform": [{"filter": "datum.p == 'c'"}],
 "mark": {"type": "circle", "size": 14, "color": "#36cc58", "opacity": 1, "clip": true},
 "encoding": {"x": {"field": "x", "type": "quantitative"}, "y": {"field": "y", "type": "quantitative"}}},
{"data": {"values": [{"t": "DPBS Aggregates"}]},
 "mark": {"type": "text", "align": "left", "baseline": "middle", "fontSize": 20, "fontWeight": "bold", "color": "#000"},
 "encoding": {"x": {"datum": 2036}, "y": {"datum": 0.98}, "text": {"field": "t", "type": "nominal"}}}
]
},
{
"width": 454, "height": 249,
"title": {"text": "d)", "dx": -59, "dy": 17},
"layer": [
{"data": {"name": "curves"}, "transform": [{"filter": "datum.p == 'd' && datum.k != 'fit'"}],
 "mark": {"type": "line", "color": "#bb9dea", "strokeWidth": 1.1, "interpolate": "monotone", "clip": true},
 "encoding": {
  "x": {"field": "x", "type": "quantitative", "scale": {"domain": [2032, 2285], "nice": false, "zero": false},
        "axis": {"values": [2050,2100,2150,2200,2250], "format": "d", "title": "Wavenumber (cm⁻¹)", "titleFontSize": 24, "titleFontWeight": "bold", "titleColor": "#3c3c3c", "titlePadding": 2, "labelFontSize": 19, "labelFontWeight": "bold", "labelColor": "#111", "labelPadding": 9, "domainColor": "#000", "domainWidth": 3, "tickColor": "#000", "tickWidth": 3, "tickSize": -5, "grid": false}},
  "y": {"field": "y", "type": "quantitative", "scale": {"domain": [-0.008, 1.022], "nice": false, "zero": false},
        "axis": {"values": [0,0.2,0.4,0.6,0.8,1], "format": ".1f", "title": null, "labelFontSize": 17, "labelFontWeight": "bold", "labelColor": "#111", "labelPadding": 5, "ticks": false, "tickSize": 0, "domainColor": "#000", "domainWidth": 3, "grid": false}},
  "detail": {"field": "k", "type": "nominal"}}},
{"data": {"name": "curves"}, "transform": [{"filter": "datum.p == 'd' && datum.k == 'fit'"}],
 "mark": {"type": "line", "color": "#d42a1f", "strokeWidth": 2.2, "interpolate": "monotone", "clip": true},
 "encoding": {"x": {"field": "x", "type": "quantitative"}, "y": {"field": "y", "type": "quantitative"}}},
{"data": {"name": "dots"}, "transform": [{"filter": "datum.p == 'd'"}],
 "mark": {"type": "circle", "size": 14, "color": "#ef4b4b", "opacity": 1, "clip": true},
 "encoding": {"x": {"field": "x", "type": "quantitative"}, "y": {"field": "y", "type": "quantitative"}}},
{"data": {"values": [{"t": "GA Aggregates"}]},
 "mark": {"type": "text", "align": "left", "baseline": "middle", "fontSize": 20, "fontWeight": "bold", "color": "#000"},
 "encoding": {"x": {"datum": 2037}, "y": {"datum": 0.99}, "text": {"field": "t", "type": "nominal"}}}
]
},
{
"width": 448, "height": 320,
"title": {"text": "e)", "dx": -79, "dy": 20},
"data": {"name": "table"},
"layer": [
{"transform": [{"filter": "datum.c == 'h'"}],
 "mark": {"type": "rect", "fill": "#fff", "stroke": "#000", "strokeWidth": 3},
 "encoding": {
  "x": {"field": "c", "type": "nominal", "scale": {"domain": ["h"], "range": [-67, 8], "paddingInner": 0, "paddingOuter": 0}, "axis": null},
  "y": {"field": "r", "type": "nominal", "sort": null, "scale": {"domain": ["hdr","DMSO","MeOH","DPBS","GA"], "range": [32.5, 319.5], "paddingInner": 0, "paddingOuter": 0}, "axis": null}}},
{"transform": [{"filter": "datum.c == 'h'"}],
 "mark": {"type": "text", "fontWeight": "bold", "lineBreak": "\n", "lineHeight": 19},
 "encoding": {
  "x": {"field": "c", "type": "nominal", "scale": {"domain": ["h"], "range": [-67, 8], "paddingInner": 0, "paddingOuter": 0}, "axis": null},
  "y": {"field": "r", "type": "nominal", "sort": null, "scale": {"domain": ["hdr","DMSO","MeOH","DPBS","GA"], "range": [32.5, 319.5], "paddingInner": 0, "paddingOuter": 0}, "axis": null},
  "text": {"field": "t", "type": "nominal"},
  "size": {"condition": {"test": "datum.r == 'hdr'", "value": 15.5}, "value": 19.5},
  "color": {"condition": {"test": "datum.r == 'hdr'", "value": "#000"}, "value": "#333"}}},
{"transform": [{"filter": "datum.c != 'h'"}],
 "mark": {"type": "rect", "fill": "#fff", "stroke": "#000", "strokeWidth": 3},
 "encoding": {
  "x": {"field": "c", "type": "nominal", "scale": {"domain": ["Peak 1","Peak 2","Peak 3"], "range": [8, 455], "paddingInner": 0, "paddingOuter": 0}, "axis": null},
  "y": {"field": "r", "type": "nominal", "sort": null, "scale": {"domain": ["hdr","DMSO","MeOH","DPBS","GA"], "range": [32.5, 319.5], "paddingInner": 0, "paddingOuter": 0}, "axis": null}}},
{"transform": [{"filter": "datum.c != 'h'"}],
 "mark": {"type": "text", "fontWeight": "bold", "fontSize": 19, "color": "#000"},
 "encoding": {
  "x": {"field": "c", "type": "nominal", "scale": {"domain": ["Peak 1","Peak 2","Peak 3"], "range": [8, 455], "paddingInner": 0, "paddingOuter": 0}, "axis": null},
  "y": {"field": "r", "type": "nominal", "sort": null, "scale": {"domain": ["hdr","DMSO","MeOH","DPBS","GA"], "range": [32.5, 319.5], "paddingInner": 0, "paddingOuter": 0}, "axis": null},
  "text": {"field": "t", "type": "nominal"}}}
],
"resolve": {"scale": {"x": "independent"}}
},
{
"width": 454, "height": 297,
"title": {"text": "f)", "dx": -58, "dy": 20},
"data": {"name": "bars"},
"mark": {"type": "bar", "stroke": "#000", "strokeWidth": 3},
"encoding": {
 "x": {"field": "s", "type": "nominal", "sort": null, "scale": {"domain": ["DPBS","MeOH","DMSO","GA"], "range": [62, 444], "paddingInner": 0.364, "paddingOuter": 0.352},
       "axis": {"title": null, "labelAngle": 0, "labelFontSize": 18, "labelFontWeight": "bold", "labelColor": "#222", "labelPadding": 0, "tickSize": 10, "tickWidth": 3, "tickColor": "#000", "domainColor": "#000", "domainWidth": 3}},
 "y": {"field": "r", "type": "quantitative", "scale": {"domain": [0.2, 0.6], "range": [297, 26.5], "nice": false, "zero": false},
       "axis": {"offset": -62, "values": [0.2,0.3,0.4,0.5,0.6], "format": ".1f", "title": "Peak1/Peak2 Ratio", "titleFontSize": 22, "titleFontWeight": "bold", "titleColor": "#111", "titlePadding": 5, "labelFontSize": 18, "labelFontWeight": "bold", "labelColor": "#333", "labelPadding": 3, "tickSize": 16, "tickWidth": 3, "tickColor": "#000", "domainColor": "#000", "domainWidth": 3, "grid": false}},
 "y2": {"datum": 0.2},
 "color": {"field": "s", "type": "nominal", "scale": {"domain": ["DPBS","MeOH","DMSO","GA"], "range": ["#0b6a36","#f8cd00","#2e3192","#c1272d"]}, "legend": null}
}
}
]
}
